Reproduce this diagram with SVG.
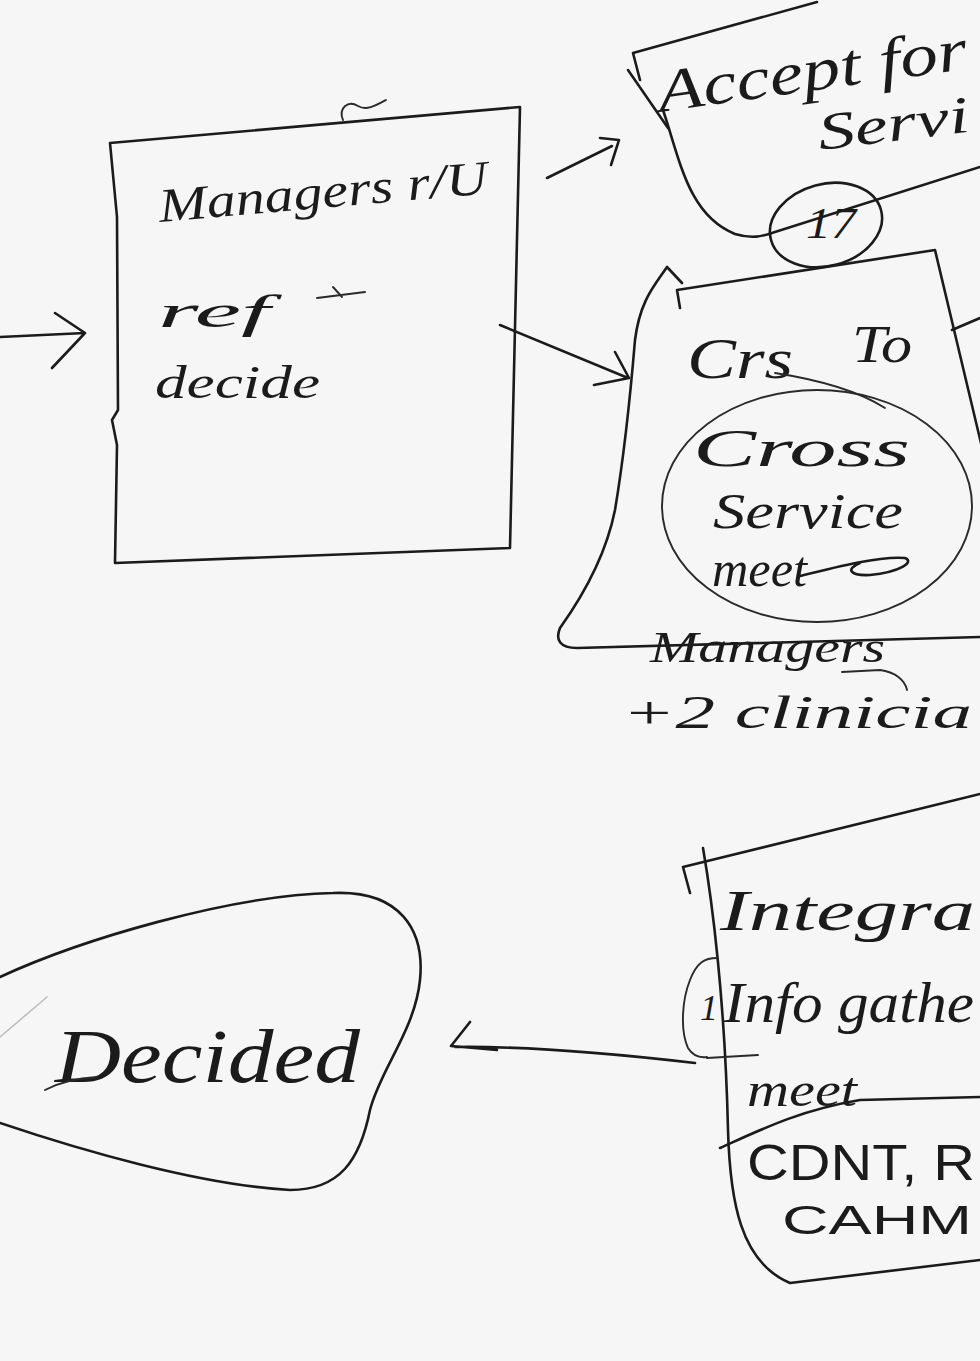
<svg xmlns="http://www.w3.org/2000/svg" width="980" height="1361" viewBox="0 0 980 1361">
<style>
.ink{fill:none;stroke:#1b1b1b;stroke-width:2.6;stroke-linecap:round;stroke-linejoin:round}
.thin{fill:none;stroke:#2a2a2a;stroke-width:1.9;stroke-linecap:round;stroke-linejoin:round}
.faint{fill:none;stroke:#bdbdbd;stroke-width:1.6;stroke-linecap:round}
.hand{font-family:"Liberation Serif","DejaVu Serif",serif;font-style:italic;fill:#1b1b1b}
.caps{font-family:"Liberation Sans","DejaVu Sans",sans-serif;fill:#1b1b1b;font-weight:300}
</style>
<rect x="0" y="0" width="980" height="1361" fill="#f6f6f6"/>

<g id="managers-node">
  <path class="ink" d="M110,143 L520,107 L510,548 L115,563 L117,445 L112,420 L118,410 L117,217 Z"/>
  <path class="thin" d="M343,120 C338,108 348,100 358,106 C366,111 375,106 386,100"/>
  <text class="hand" x="160" y="222" font-size="48" textLength="330" lengthAdjust="spacingAndGlyphs" transform="rotate(-5 160 222)">Managers r/U</text>
  <text class="hand" x="158" y="327" font-size="46" textLength="112" lengthAdjust="spacingAndGlyphs">ref</text>
  <path class="thin" d="M317,298 L365,292 M333,287 L342,297"/>
  <text class="hand" x="155" y="398" font-size="46" textLength="165" lengthAdjust="spacingAndGlyphs">decide</text>
</g>

<g id="accept-node">
  <path class="ink" d="M640,80 L633,53 L817,2"/>
  <path class="ink" d="M628,70 L668,128"/>
  <path class="ink" d="M663,110 C680,160 688,215 735,234 C755,240 765,235 775,232 L980,167"/>
  <text class="hand" x="660" y="112" font-size="60" textLength="312" lengthAdjust="spacingAndGlyphs" transform="rotate(-8 660 112)">Accept for</text>
  <text class="hand" x="820" y="150" font-size="52" textLength="152" lengthAdjust="spacingAndGlyphs" transform="rotate(-7 820 150)">Servi</text>
  <ellipse class="ink" cx="826" cy="225" rx="57" ry="41" transform="rotate(-15 826 225)"/>
  <text class="hand" x="806" y="238" font-size="44" textLength="50" lengthAdjust="spacingAndGlyphs">17</text>
</g>

<g id="crs-node">
  <path class="ink" d="M682,283 L667,267 C655,285 640,300 635,340 C630,400 625,450 615,510 C605,560 580,600 560,628 C555,640 560,648 577,648 L980,637"/>
  <path class="ink" d="M680,308 L677,290 L935,250 L985,460"/>
  <path class="ink" d="M952,330 L980,318"/>
  <text class="hand" x="687" y="378" font-size="58" textLength="106" lengthAdjust="spacingAndGlyphs">Crs</text>
  <text class="hand" x="852" y="362" font-size="52" textLength="60" lengthAdjust="spacingAndGlyphs">To</text>
  <path class="thin" d="M775,373 C820,380 860,392 885,408"/>
  <ellipse class="thin" cx="817" cy="506" rx="155" ry="116"/>
  <text class="hand" x="693" y="466" font-size="52" textLength="217" lengthAdjust="spacingAndGlyphs">Cross</text>
  <text class="hand" x="713" y="528" font-size="50" textLength="190" lengthAdjust="spacingAndGlyphs">Service</text>
  <text class="hand" x="712" y="586" font-size="50" textLength="95" lengthAdjust="spacingAndGlyphs">meet</text>
  <path class="ink" d="M800,576 C840,566 880,556 905,558 C915,562 900,572 870,575 C850,576 845,569 860,563"/>
  <text class="hand" x="650" y="662" font-size="44" textLength="235" lengthAdjust="spacingAndGlyphs">Managers</text>
  <path class="thin" d="M842,672 L880,670 C895,672 905,680 907,690"/>
  <text class="hand" x="622" y="728" font-size="46" textLength="350" lengthAdjust="spacingAndGlyphs">+2 clinicia</text>
</g>

<g id="integration-node">
  <path class="ink" d="M690,893 L683,867 L980,794"/>
  <path class="ink" d="M703,848 C712,900 725,1000 728,1130 C730,1200 740,1262 790,1283 L980,1260"/>
  <path class="ink" d="M720,1148 C760,1130 800,1110 860,1100 L980,1097"/>
  <path class="thin" d="M707,1058 L758,1055"/>
  <path class="thin" d="M717,958 C705,958 697,962 690,980 C682,1000 680,1030 688,1048 C693,1056 700,1058 707,1057"/>
  <text class="hand" x="700" y="1020" font-size="36">1</text>
  <text class="hand" x="720" y="930" font-size="58" textLength="255" lengthAdjust="spacingAndGlyphs">Integra</text>
  <text class="hand" x="724" y="1022" font-size="56" textLength="250" lengthAdjust="spacingAndGlyphs">Info gathe</text>
  <text class="hand" x="747" y="1106" font-size="48" textLength="110" lengthAdjust="spacingAndGlyphs">meet</text>
  <text class="caps" x="747" y="1180" font-size="50" textLength="228" lengthAdjust="spacingAndGlyphs">CDNT, R</text>
  <text class="caps" x="782" y="1234" font-size="40" textLength="190" lengthAdjust="spacingAndGlyphs">CAHM</text>
</g>

<g id="decided-node">
  <path class="ink" d="M0,977 C80,940 230,895 333,893 C400,890 425,930 420,980 C415,1030 380,1070 370,1110 C360,1160 340,1190 290,1190 C200,1185 80,1150 0,1123"/>
  <path class="faint" d="M47,997 L0,1037"/>
  <text class="hand" x="55" y="1082" font-size="76" textLength="305" lengthAdjust="spacingAndGlyphs">Decided</text>
  <path class="thin" d="M45,1090 C60,1082 80,1078 97,1077"/>
</g>

<g id="connectors">
  <path class="ink" d="M0,337 L85,333 M55,313 L85,333 L52,368"/>
  <path class="ink" d="M547,178 L612,146 M600,138 L619,140 L611,165"/>
  <path class="ink" d="M500,325 L628,378 M615,352 L629,378 L594,385"/>
  <path class="ink" d="M695,1063 C600,1052 520,1046 455,1047 M470,1022 L451,1046 L497,1050"/>
</g>
</svg>
